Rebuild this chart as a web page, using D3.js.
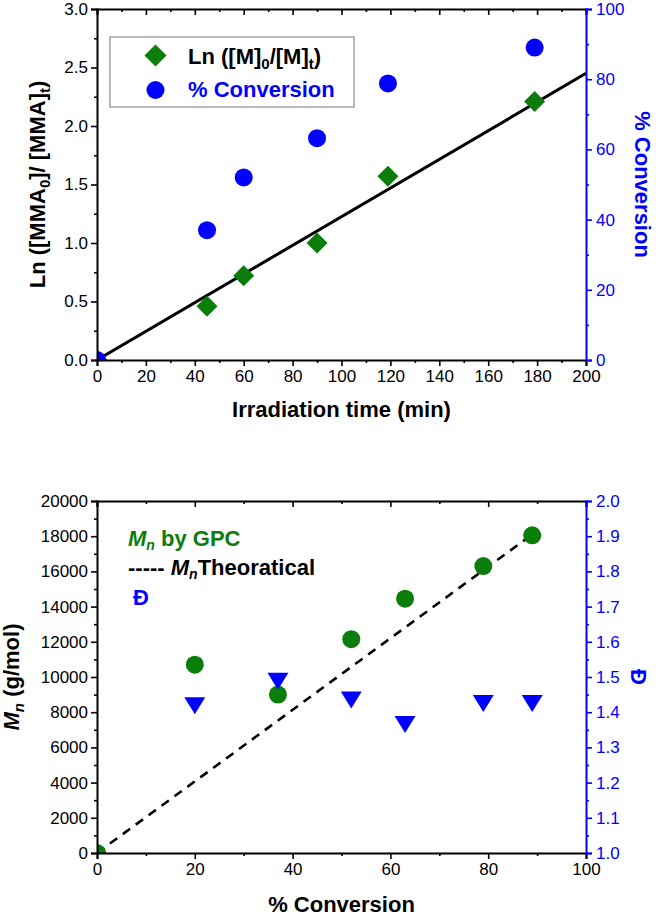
<!DOCTYPE html>
<html><head><meta charset="utf-8">
<script src="https://cdn.jsdelivr.net/npm/d3@7"></script>
<style>
body{margin:0;background:#fff;}
svg{display:block;font-family:"Liberation Sans",Arial,sans-serif;}
</style></head>
<body>
<svg id="c" width="656" height="916"></svg>
<script>
// ---------- Data: top panel ----------
const timeMin = [0, 45, 60, 90, 119, 179];
const lnRatio = [0, 0.46, 0.72, 1.00, 1.57, 2.21];
const conversionPct = [0, 37.0, 52.0, 63.2, 78.8, 89.0];
const fitTime = [0, 200];
const fitLn = [0, 2.45];
const topXTicks = [0, 20, 40, 60, 80, 100, 120, 140, 160, 180, 200];
const topYLTicks = [0, 0.5, 1.0, 1.5, 2.0, 2.5, 3.0];
const topYRTicks = [0, 20, 40, 60, 80, 100];

// ---------- Data: bottom panel ----------
const convGPC = [0, 20, 37, 52, 63, 79, 89];
const mnGPC = [0, 10700, 9000, 12150, 14450, 16300, 18050];
const convDisp = [20, 37, 52, 63, 79, 89];
const dispersity = [1.418, 1.488, 1.435, 1.365, 1.425, 1.425];
const theoConv = [0, 89];
const theoMn = [0, 18100];
const botXTicks = [0, 20, 40, 60, 80, 100];
const botYLTicks = [0, 2000, 4000, 6000, 8000, 10000, 12000, 14000, 16000, 18000, 20000];
const botYRTicks = [1.0, 1.1, 1.2, 1.3, 1.4, 1.5, 1.6, 1.7, 1.8, 1.9, 2.0];

const GREEN = "#0a7d0a", BLUE = "#0000ff", BLACK = "#000";
const FS_TICK = 17, FS_TITLE = 22, FS_SUB = 15;
const svg = d3.select("#c");
const L = 97, R = 586;

function mids(t){ const o=[]; for(let i=0;i<t.length-1;i++) o.push((t[i]+t[i+1])/2); return o; }

function frame(g, x, yL, yR, xt, ylt, yrt, fmtL, fmtR, top, bottom, id){
  const tick = 6, minor = 3;
  svg.append("clipPath").attr("id", id).append("rect")
    .attr("x", L).attr("y", top).attr("width", R-L).attr("height", bottom-top);
  const style = (sel, col) => {
    sel.select(".domain").attr("stroke", col).attr("stroke-width", 2);
    sel.selectAll(".tick line").attr("stroke", col).attr("stroke-width", 1.6);
    sel.selectAll(".tick text").attr("fill", col).style("font-size", FS_TICK + "px")
      .style("font-family", "Liberation Sans, Arial, sans-serif");
  };
  let a = g.append("g").attr("transform", `translate(0,${bottom})`)
    .call(d3.axisBottom(x).tickValues(xt).tickSize(tick).tickPadding(4).tickFormat(d3.format("d")));
  style(a, BLACK);
  a = g.append("g").attr("transform", `translate(0,${bottom})`)
    .call(d3.axisBottom(x).tickValues(mids(xt)).tickSize(minor).tickFormat(""));
  style(a, BLACK); a.select(".domain").remove();
  a = g.append("g").attr("transform", `translate(0,${top})`)
    .call(d3.axisBottom(x).tickValues(xt).tickSize(tick).tickFormat(""));
  style(a, BLACK);
  a = g.append("g").attr("transform", `translate(0,${top})`)
    .call(d3.axisBottom(x).tickValues(mids(xt)).tickSize(minor).tickFormat(""));
  style(a, BLACK); a.select(".domain").remove();
  a = g.append("g").attr("transform", `translate(${L},0)`)
    .call(d3.axisLeft(yL).tickValues(ylt).tickSize(tick).tickPadding(3).tickFormat(fmtL));
  style(a, BLACK);
  a = g.append("g").attr("transform", `translate(${L},0)`)
    .call(d3.axisLeft(yL).tickValues(mids(ylt)).tickSize(minor).tickFormat(""));
  style(a, BLACK); a.select(".domain").remove();
  a = g.append("g").attr("transform", `translate(${R},0)`)
    .call(d3.axisRight(yR).tickValues(yrt).tickSize(tick).tickPadding(4).tickFormat(fmtR));
  style(a, BLUE);
  a = g.append("g").attr("transform", `translate(${R},0)`)
    .call(d3.axisRight(yR).tickValues(mids(yrt)).tickSize(minor).tickFormat(""));
  style(a, BLUE); a.select(".domain").remove();
}

// ================= TOP PANEL =================
{
  const top = 9, bottom = 360;
  const x = d3.scaleLinear().domain([0, 200]).range([L, R]);
  const yL = d3.scaleLinear().domain([0, 3]).range([bottom, top]);
  const yR = d3.scaleLinear().domain([0, 100]).range([bottom, top]);
  const g = svg.append("g");
  const marks = g.append("g").attr("clip-path", "url(#clipTop)");

  marks.append("path")
    .attr("d", d3.line().x(d => x(d[0])).y(d => yL(d[1]))(d3.zip(fitTime, fitLn)))
    .attr("stroke", BLACK).attr("stroke-width", 3).attr("fill", "none");

  const dia = (s) => `M0,${-s}L${s},0L0,${s}L${-s},0Z`;
  marks.selectAll(".dia").data(d3.zip(timeMin, lnRatio)).join("path")
    .attr("transform", d => `translate(${x(d[0])},${yL(d[1])})`)
    .attr("d", dia(10.5)).attr("fill", GREEN);
  marks.selectAll(".cir").data(d3.zip(timeMin, conversionPct)).join("circle")
    .attr("cx", d => x(d[0])).attr("cy", d => yR(d[1])).attr("r", 9).attr("fill", BLUE);

  frame(g, x, yL, yR, topXTicks, topYLTicks, topYRTicks, d3.format(".1f"), d3.format("d"), top, bottom, "clipTop");

  const lg = g.append("g");
  lg.append("rect").attr("x", 110).attr("y", 37).attr("width", 244).attr("height", 70)
    .attr("fill", "#fff").attr("stroke", "#8c8c8c").attr("stroke-width", 1.2);
  lg.append("path").attr("transform", "translate(155.5,55.5)").attr("d", dia(11)).attr("fill", GREEN);
  lg.append("circle").attr("cx", 155.5).attr("cy", 90).attr("r", 9).attr("fill", BLUE);
  const t1 = lg.append("text").attr("x", 188).attr("y", 64).attr("font-size", FS_TITLE).attr("font-weight", "bold").attr("fill", BLACK);
  t1.append("tspan").text("Ln ([M]");
  t1.append("tspan").attr("dy", 5).attr("font-size", FS_SUB).text("0");
  t1.append("tspan").attr("dy", -5).text("/[M]");
  t1.append("tspan").attr("dy", 5).attr("font-size", FS_SUB).text("t");
  t1.append("tspan").attr("dy", -5).text(")");
  lg.append("text").attr("x", 188).attr("y", 97).attr("font-size", FS_TITLE).attr("font-weight", "bold")
    .attr("fill", BLUE).text("% Conversion");

  g.append("text").attr("x", (L+R)/2).attr("y", 417).attr("text-anchor", "middle")
    .attr("font-size", FS_TITLE).attr("font-weight", "bold").text("Irradiation time (min)");
  const lt = g.append("text").attr("transform", `translate(45,${(top+bottom)/2}) rotate(-90)`)
    .attr("text-anchor", "middle").attr("font-size", FS_TITLE).attr("font-weight", "bold");
  lt.append("tspan").text("Ln ([MMA");
  lt.append("tspan").attr("dy", 5).attr("font-size", FS_SUB).text("0");
  lt.append("tspan").attr("dy", -5).text("]/ [MMA]");
  lt.append("tspan").attr("dy", 5).attr("font-size", FS_SUB).text("t");
  lt.append("tspan").attr("dy", -5).text(")");
  g.append("text").attr("transform", `translate(635,${(top+bottom)/2}) rotate(90)`)
    .attr("text-anchor", "middle").attr("font-size", FS_TITLE).attr("font-weight", "bold")
    .attr("fill", BLUE).text("% Conversion");
}

// ================= BOTTOM PANEL =================
{
  const top = 501, bottom = 853;
  const x = d3.scaleLinear().domain([0, 100]).range([L, R]);
  const yL = d3.scaleLinear().domain([0, 20000]).range([bottom, top]);
  const yR = d3.scaleLinear().domain([1, 2]).range([bottom, top]);
  const g = svg.append("g");
  const marks = g.append("g").attr("clip-path", "url(#clipBot)");

  marks.append("path")
    .attr("d", d3.line().x(d => x(d[0])).y(d => yL(d[1]))(d3.zip(theoConv, theoMn)))
    .attr("stroke", BLACK).attr("stroke-width", 2.6).attr("stroke-dasharray", "9,7").attr("fill", "none");

  marks.selectAll(".gpc").data(d3.zip(convGPC, mnGPC)).join("circle")
    .attr("cx", d => x(d[0])).attr("cy", d => yL(d[1])).attr("r", 9).attr("fill", GREEN);

  const tri = "M-10.5,-8.5L10.5,-8.5L0,8.5Z";
  marks.selectAll(".tri").data(d3.zip(convDisp, dispersity)).join("path")
    .attr("transform", d => `translate(${x(d[0])},${yR(d[1])})`)
    .attr("d", tri).attr("fill", BLUE);

  frame(g, x, yL, yR, botXTicks, botYLTicks, botYRTicks, d3.format("d"), d3.format(".1f"), top, bottom, "clipBot");

  const l1 = g.append("text").attr("x", 128).attr("y", 546).attr("font-size", FS_TITLE).attr("font-weight", "bold").attr("fill", GREEN);
  l1.append("tspan").attr("font-style", "italic").text("M");
  l1.append("tspan").attr("dy", 4).attr("font-size", 14).attr("font-style", "italic").text("n");
  l1.append("tspan").attr("dy", -4).text(" by GPC");
  const l2 = g.append("text").attr("x", 128).attr("y", 575).attr("font-size", FS_TITLE).attr("font-weight", "bold").attr("fill", BLACK);
  l2.append("tspan").text("----- ");
  l2.append("tspan").attr("font-style", "italic").text("M");
  l2.append("tspan").attr("dy", 4).attr("font-size", 14).attr("font-style", "italic").text("n");
  l2.append("tspan").attr("dy", -4).text("Theoratical");
  g.append("text").attr("x", 133).attr("y", 605).attr("font-size", FS_TITLE).attr("font-weight", "bold")
    .attr("fill", BLUE).text("Đ");

  g.append("text").attr("x", (L+R)/2).attr("y", 912).attr("text-anchor", "middle")
    .attr("font-size", FS_TITLE).attr("font-weight", "bold").text("% Conversion");
  const lt = g.append("text").attr("transform", `translate(19,${(top+bottom)/2}) rotate(-90)`)
    .attr("text-anchor", "middle").attr("font-size", FS_TITLE).attr("font-weight", "bold");
  lt.append("tspan").attr("font-style", "italic").text("M");
  lt.append("tspan").attr("dy", 5).attr("font-size", FS_SUB).attr("font-style", "italic").text("n");
  lt.append("tspan").attr("dy", -5).text(" (g/mol)");
  g.append("text").attr("transform", `translate(631,${(top+bottom)/2}) rotate(90)`)
    .attr("text-anchor", "middle").attr("font-size", FS_TITLE).attr("font-weight", "bold")
    .attr("fill", BLUE).text("Đ");
}
</script>
</body></html>
